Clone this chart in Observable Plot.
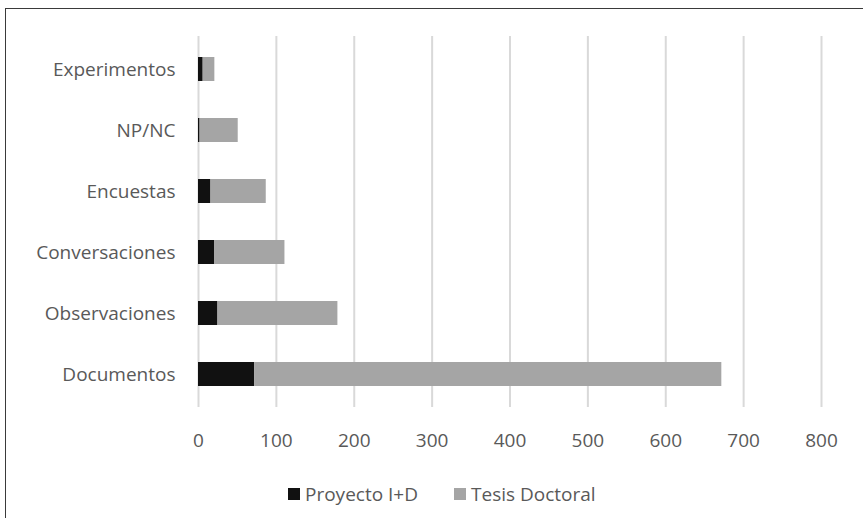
<!DOCTYPE html>
<html>
<head>
<meta charset="utf-8">
<script src="https://cdn.jsdelivr.net/npm/d3@7"></script>
<script src="https://cdn.jsdelivr.net/npm/@observablehq/plot@0.6"></script>
<style>
  html, body { margin: 0; padding: 0; background: #fff; }
  #wrap { position: relative; width: 863px; height: 518px; overflow: hidden; background: #fff; }
  #frame { position: absolute; left: 5px; top: 8px; width: 900px; height: 560px; border-top: 1px solid #3a3a3a; border-left: 1px solid #3a3a3a; box-sizing: border-box; }
  #chart { position: absolute; left: 0; top: 0; }
  .leg { position: absolute; top: 481px; height: 26px; font-family: "Open Sans", sans-serif; font-size: 19px; color: #595959; display: flex; align-items: center; white-space: nowrap; }
  .sw { display: inline-block; width: 12px; height: 12px; margin-right: 5px; }
</style>
</head>
<body>
<div id="wrap">
  <div id="frame"></div>
  <div id="chart"></div>
  <div class="leg" style="left:288px"><span class="sw" style="background:#111111"></span><span id="l1"></span></div>
  <div class="leg" style="left:454px"><span class="sw" style="background:#a5a5a5"></span><span id="l2"></span></div>
</div>
<script>
const categories = ["Experimentos", "NP/NC", "Encuestas", "Conversaciones", "Observaciones", "Documentos"];
const seriesNames = ["Proyecto I+D", "Tesis Doctoral"];
const proyecto = [6, 2, 16, 21, 25, 72];
const tesis = [15, 49, 71, 90, 154, 600];
const xTicks = [0, 100, 200, 300, 400, 500, 600, 700, 800];
const colors = ["#111111", "#a5a5a5"];

const rows = [];
categories.forEach((c, i) => {
  rows.push({cat: c, series: seriesNames[0], value: proyecto[i]});
  rows.push({cat: c, series: seriesNames[1], value: tesis[i]});
});

document.getElementById("l1").textContent = seriesNames[0];
document.getElementById("l2").textContent = seriesNames[1];

const chart = Plot.plot({
  width: 863,
  height: 460,
  marginLeft: 198,
  marginRight: 42,
  marginTop: 36,
  marginBottom: 53,
  style: {fontFamily: "'Open Sans', sans-serif", fontSize: "19px", color: "#595959", background: "transparent"},
  x: {domain: [0, 800], ticks: xTicks, label: null},
  y: {domain: categories, paddingInner: 0.61, paddingOuter: 0.3, label: null},
  color: {domain: seriesNames, range: colors},
  marks: [
    Plot.gridX(xTicks, {stroke: "#d9d9d9", strokeOpacity: 1, strokeWidth: 2}),
    Plot.barX(rows, Plot.stackX({x: "value", y: "cat", fill: "series", order: seriesNames})),
    Plot.axisX({ticks: xTicks, tickSize: 0, tickPadding: 26, label: null, fontSize: 19}),
    Plot.axisY({tickSize: 0, tickPadding: 23, label: null, fontSize: 19})
  ]
});
document.getElementById("chart").appendChild(chart);
</script>
</body>
</html>
